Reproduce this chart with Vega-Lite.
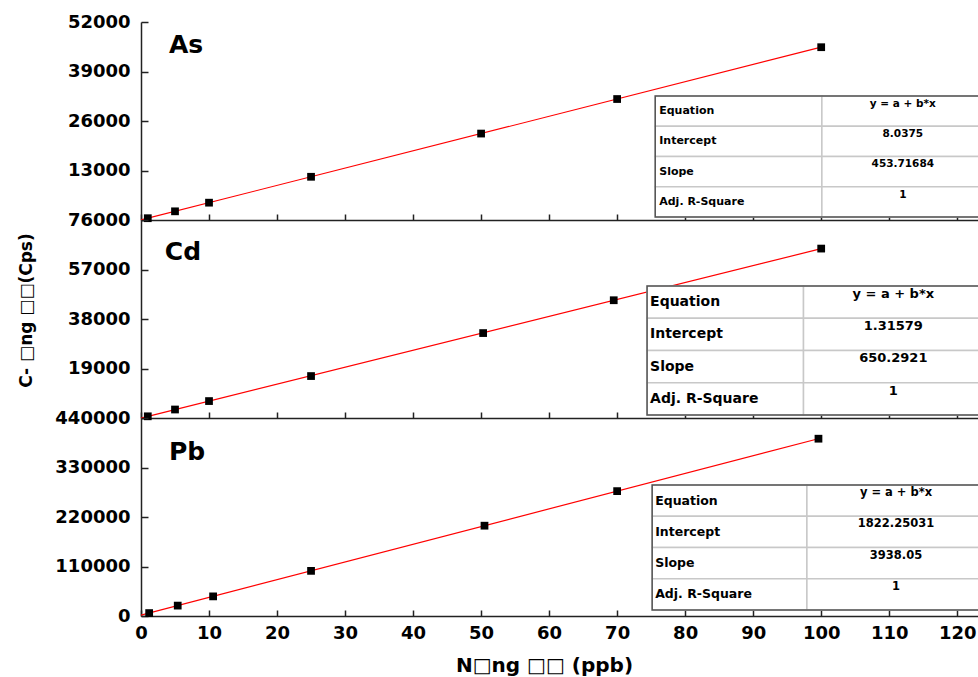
{
  "$schema": "https://vega.github.io/schema/vega-lite/v6.json",
  "autosize": {"type": "pad"},
  "padding": {"left": 16, "top": 13, "right": 0, "bottom": 2},
  "background": "white",
  "spacing": 0,
  "bounds": "flush",
  "config": {
    "view": {"stroke": null},
    "axis": {
      "grid": false,
      "domainColor": "#222",
      "domainWidth": 1.5,
      "tickColor": "#222",
      "tickWidth": 1.5,
      "labelFont": "DejaVu Sans",
      "labelFontWeight": "bold",
      "labelFontSize": 18,
      "labelColor": "#000",
      "labelOverlap": false,
      "labelFlush": false,
      "titleFont": "DejaVu Sans",
      "titleFontWeight": "bold",
      "titleColor": "#000"
    }
  },
  "datasets": {
    "pts": [
      {"el": "As", "x": 1, "y": 470},
      {"el": "As", "x": 5, "y": 2280},
      {"el": "As", "x": 10, "y": 4550},
      {"el": "As", "x": 25, "y": 11350},
      {"el": "As", "x": 50, "y": 22700},
      {"el": "As", "x": 70, "y": 31770},
      {"el": "As", "x": 100, "y": 45380},
      {"el": "Cd", "x": 1, "y": 650},
      {"el": "Cd", "x": 5, "y": 3260},
      {"el": "Cd", "x": 10, "y": 6500},
      {"el": "Cd", "x": 25, "y": 16100},
      {"el": "Cd", "x": 50.3, "y": 32600},
      {"el": "Cd", "x": 69.5, "y": 45200},
      {"el": "Cd", "x": 100, "y": 65030},
      {"el": "Pb", "x": 1.2, "y": 6500},
      {"el": "Pb", "x": 5.4, "y": 23100},
      {"el": "Pb", "x": 10.6, "y": 43600},
      {"el": "Pb", "x": 25, "y": 100300},
      {"el": "Pb", "x": 50.5, "y": 200700},
      {"el": "Pb", "x": 70, "y": 277500},
      {"el": "Pb", "x": 99.6, "y": 394000}
    ],
    "tbl": [
      {"el": "As", "stat": "Equation", "val": "y = a + b*x"},
      {"el": "As", "stat": "Intercept", "val": "8.0375"},
      {"el": "As", "stat": "Slope", "val": "453.71684"},
      {"el": "As", "stat": "Adj. R-Square", "val": "1"},
      {"el": "Cd", "stat": "Equation", "val": "y = a + b*x"},
      {"el": "Cd", "stat": "Intercept", "val": "1.31579"},
      {"el": "Cd", "stat": "Slope", "val": "650.2921"},
      {"el": "Cd", "stat": "Adj. R-Square", "val": "1"},
      {"el": "Pb", "stat": "Equation", "val": "y = a + b*x"},
      {"el": "Pb", "stat": "Intercept", "val": "1822.25031"},
      {"el": "Pb", "stat": "Slope", "val": "3938.05"},
      {"el": "Pb", "stat": "Adj. R-Square", "val": "1"}
    ]
  },
  "vconcat": [
    {
      "width": 838, "height": 198,
      "layer": [
        {
          "data": {"name": "pts"},
          "transform": [{"filter": "datum.el === 'As'"}],
          "layer": [
            {
              "transform": [{"regression": "y", "on": "x", "extent": [0, 100]}],
              "mark": {"type": "line", "color": "#ff0000", "strokeWidth": 1.2},
              "encoding": {
                "x": {"field": "x", "type": "quantitative", "scale": {"domain": [0, 123.2], "nice": false, "zero": false},
                  "axis": {"values": [0,5,10,15,20,25,30,35,40,45,50,55,60,65,70,75,80,85,90,95,100,105,110,115,120], "labels": false, "title": null,
                    "tickSize": {"condition": {"test": "datum.value % 10 === 0", "value": -6}, "value": -3}}},
                "y": {"field": "y", "type": "quantitative", "scale": {"domain": [0, 52000], "nice": false},
                  "axis": {"values": [0,6500,13000,19500,26000,32500,39000,45500,52000], "format": "d", "title": null, "labelPadding": 18,
                    "labelExpr": "datum.value > 0 && datum.value % 13000 === 0 ? datum.label : ''",
                    "tickSize": {"condition": {"test": "datum.value % 13000 === 0", "value": -7}, "value": -4}}}
              }
            },
            {
              "mark": {"type": "point", "shape": "square", "filled": true, "color": "#000", "size": 60, "opacity": 1},
              "encoding": {"x": {"field": "x", "type": "quantitative"}, "y": {"field": "y", "type": "quantitative"}}
            },
            {
              "data": {"values": [{"name": "As"}]},
              "mark": {"type": "text", "align": "left", "baseline": "middle", "font": "DejaVu Sans", "fontWeight": "bold", "fontSize": 25, "color": "#000"},
              "encoding": {"x": {"datum": 4.1}, "y": {"datum": 45960}, "text": {"field": "name"}}
            }
          ]
        },
        {
          "data": {"name": "tbl"},
          "transform": [{"filter": "datum.el === 'As'"}],
          "layer": [
            {
              "mark": {"type": "rect", "fill": "#fff", "stroke": "#c8c8c8", "strokeWidth": 1.5, "clip": true},
              "encoding": {"x": {"datum": 75.6}, "x2": {"datum": 100.1},
                "y": {"field": "stat", "type": "nominal", "sort": null, "axis": null,
                  "scale": {"type": "band", "domain": [" ", "  ", "Equation", "Intercept", "Slope", "Adj. R-Square"], "paddingInner": 0, "paddingOuter": 0.273, "align": 0.818}}}
            },
            {
              "mark": {"type": "rect", "fill": "#fff", "stroke": "#c8c8c8", "strokeWidth": 1.5, "clip": true},
              "encoding": {"x": {"datum": 100.1}, "x2": {"datum": 126}, "y": {"field": "stat", "type": "nominal"}}
            },
            {
              "mark": {"type": "text", "align": "left", "baseline": "middle", "dx": 4, "font": "DejaVu Sans", "fontWeight": "bold", "fontSize": 11, "color": "#000"},
              "encoding": {"x": {"datum": 75.6}, "y": {"field": "stat", "type": "nominal"}, "text": {"field": "stat"}}
            },
            {
              "mark": {"type": "text", "align": "center", "baseline": "top", "dy": 3, "font": "DejaVu Sans", "fontWeight": "bold", "fontSize": 10.5, "color": "#000"},
              "encoding": {"x": {"datum": 112}, "y": {"field": "stat", "type": "nominal", "bandPosition": 0}, "text": {"field": "val"}}
            }
          ]
        },
        {
          "data": {"name": "tbl"},
          "transform": [{"filter": "datum.el === 'As' && datum.stat === 'Equation'"}],
          "mark": {"type": "rect", "fillOpacity": 0, "stroke": "#555", "strokeWidth": 1.5, "clip": true},
          "encoding": {"x": {"datum": 75.6}, "x2": {"datum": 126},
            "y": {"datum": "frame", "type": "nominal", "axis": null,
              "scale": {"type": "band", "domain": ["frame"], "paddingInner": 0, "paddingOuter": 0.318, "align": 0.961}}}
        }
      ],
      "resolve": {"scale": {"y": "independent"}}
    },
    {
      "width": 838, "height": 198,
      "layer": [
        {
          "data": {"name": "pts"},
          "transform": [{"filter": "datum.el === 'Cd'"}],
          "layer": [
            {
              "transform": [{"regression": "y", "on": "x", "extent": [0, 100]}],
              "mark": {"type": "line", "color": "#ff0000", "strokeWidth": 1.2},
              "encoding": {
                "x": {"field": "x", "type": "quantitative", "scale": {"domain": [0, 123.2], "nice": false, "zero": false},
                  "axis": {"values": [0,5,10,15,20,25,30,35,40,45,50,55,60,65,70,75,80,85,90,95,100,105,110,115,120], "labels": false, "title": null,
                    "tickSize": {"condition": {"test": "datum.value % 10 === 0", "value": -6}, "value": -3}}},
                "y": {"field": "y", "type": "quantitative", "scale": {"domain": [0, 76000], "nice": false},
                  "axis": {"values": [0,9500,19000,28500,38000,47500,57000,66500,76000], "format": "d", "labelPadding": 18,
                    "labelExpr": "datum.value > 0 && datum.value % 19000 === 0 ? datum.label : ''",
                    "tickSize": {"condition": {"test": "datum.value % 19000 === 0", "value": -7}, "value": -4},
                    "title": "C- □ng □□(Cps)", "titleFontSize": 17, "titleAngle": -90, "titleX": -115, "titleY": 90,
                    "titleAlign": "center", "titleBaseline": "middle"}}
              }
            },
            {
              "mark": {"type": "point", "shape": "square", "filled": true, "color": "#000", "size": 60, "opacity": 1},
              "encoding": {"x": {"field": "x", "type": "quantitative"}, "y": {"field": "y", "type": "quantitative"}}
            },
            {
              "data": {"values": [{"name": "Cd"}]},
              "mark": {"type": "text", "align": "left", "baseline": "middle", "font": "DejaVu Sans", "fontWeight": "bold", "fontSize": 25, "color": "#000"},
              "encoding": {"x": {"datum": 3.5}, "y": {"datum": 63700}, "text": {"field": "name"}}
            }
          ]
        },
        {
          "data": {"name": "tbl"},
          "transform": [{"filter": "datum.el === 'Cd'"}],
          "layer": [
            {
              "mark": {"type": "rect", "fill": "#fff", "stroke": "#c8c8c8", "strokeWidth": 1.5, "clip": true},
              "encoding": {"x": {"datum": 74.4}, "x2": {"datum": 97.4},
                "y": {"field": "stat", "type": "nominal", "sort": null, "axis": null,
                  "scale": {"type": "band", "domain": [" ", "  ", "Equation", "Intercept", "Slope", "Adj. R-Square"], "paddingInner": 0, "paddingOuter": 0.0698, "align": 0.333}}}
            },
            {
              "mark": {"type": "rect", "fill": "#fff", "stroke": "#c8c8c8", "strokeWidth": 1.5, "clip": true},
              "encoding": {"x": {"datum": 97.4}, "x2": {"datum": 126}, "y": {"field": "stat", "type": "nominal"}}
            },
            {
              "mark": {"type": "text", "align": "left", "baseline": "middle", "dx": 3, "font": "DejaVu Sans", "fontWeight": "bold", "fontSize": 14, "color": "#000"},
              "encoding": {"x": {"datum": 74.4}, "y": {"field": "stat", "type": "nominal"}, "text": {"field": "stat"}}
            },
            {
              "mark": {"type": "text", "align": "center", "baseline": "top", "dy": 2, "font": "DejaVu Sans", "fontWeight": "bold", "fontSize": 13, "color": "#000"},
              "encoding": {"x": {"datum": 110.6}, "y": {"field": "stat", "type": "nominal", "bandPosition": 0}, "text": {"field": "val"}}
            }
          ]
        },
        {
          "data": {"name": "tbl"},
          "transform": [{"filter": "datum.el === 'Cd' && datum.stat === 'Equation'"}],
          "mark": {"type": "rect", "fillOpacity": 0, "stroke": "#555", "strokeWidth": 1.5, "clip": true},
          "encoding": {"x": {"datum": 74.4}, "x2": {"datum": 126},
            "y": {"datum": "frame", "type": "nominal", "axis": null,
              "scale": {"type": "band", "domain": ["frame"], "paddingInner": 0, "paddingOuter": 0.2674, "align": 0.957}}}
        }
      ],
      "resolve": {"scale": {"y": "independent"}}
    },
    {
      "width": 838, "height": 198,
      "layer": [
        {
          "data": {"name": "pts"},
          "transform": [{"filter": "datum.el === 'Pb'"}],
          "layer": [
            {
              "transform": [{"regression": "y", "on": "x", "extent": [0, 100]}],
              "mark": {"type": "line", "color": "#ff0000", "strokeWidth": 1.2},
              "encoding": {
                "x": {"field": "x", "type": "quantitative", "scale": {"domain": [0, 123.2], "nice": false, "zero": false},
                  "axis": {"values": [0,5,10,15,20,25,30,35,40,45,50,55,60,65,70,75,80,85,90,95,100,105,110,115,120], "format": "d", "labelPadding": 14,
                    "labelExpr": "datum.value % 10 === 0 ? datum.label : ''",
                    "tickSize": {"condition": {"test": "datum.value % 10 === 0", "value": -6}, "value": -3},
                    "title": "N□ng □□ (ppb)", "titleFontSize": 20, "titleX": 403, "titleY": 49, "titleAlign": "center", "titleBaseline": "middle"}},
                "y": {"field": "y", "type": "quantitative", "scale": {"domain": [0, 440000], "nice": false},
                  "axis": {"values": [0,55000,110000,165000,220000,275000,330000,385000,440000], "format": "d", "title": null, "labelPadding": 18,
                    "labelExpr": "datum.value % 110000 === 0 ? datum.label : ''",
                    "tickSize": {"condition": {"test": "datum.value % 110000 === 0", "value": -7}, "value": -4}}}
              }
            },
            {
              "mark": {"type": "point", "shape": "square", "filled": true, "color": "#000", "size": 60, "opacity": 1},
              "encoding": {"x": {"field": "x", "type": "quantitative"}, "y": {"field": "y", "type": "quantitative"}}
            },
            {
              "data": {"values": [{"name": "Pb"}]},
              "mark": {"type": "text", "align": "left", "baseline": "middle", "font": "DejaVu Sans", "fontWeight": "bold", "fontSize": 25, "color": "#000"},
              "encoding": {"x": {"datum": 4.1}, "y": {"datum": 364400}, "text": {"field": "name"}}
            }
          ]
        },
        {
          "data": {"name": "tbl"},
          "transform": [{"filter": "datum.el === 'Pb'"}],
          "layer": [
            {
              "mark": {"type": "rect", "fill": "#fff", "stroke": "#c8c8c8", "strokeWidth": 1.5, "clip": true},
              "encoding": {"x": {"datum": 75.15}, "x2": {"datum": 97.9},
                "y": {"field": "stat", "type": "nominal", "sort": null, "axis": null,
                  "scale": {"type": "band", "domain": [" ", "  ", "Equation", "Intercept", "Slope", "Adj. R-Square"], "paddingInner": 0, "paddingOuter": 0.168, "align": 0.4286}}}
            },
            {
              "mark": {"type": "rect", "fill": "#fff", "stroke": "#c8c8c8", "strokeWidth": 1.5, "clip": true},
              "encoding": {"x": {"datum": 97.9}, "x2": {"datum": 126}, "y": {"field": "stat", "type": "nominal"}}
            },
            {
              "mark": {"type": "text", "align": "left", "baseline": "middle", "dx": 3, "font": "DejaVu Sans", "fontWeight": "bold", "fontSize": 12.5, "color": "#000"},
              "encoding": {"x": {"datum": 75.15}, "y": {"field": "stat", "type": "nominal"}, "text": {"field": "stat"}}
            },
            {
              "mark": {"type": "text", "align": "center", "baseline": "top", "dy": 2, "font": "DejaVu Sans", "fontWeight": "bold", "fontSize": 11.5, "color": "#000"},
              "encoding": {"x": {"datum": 111}, "y": {"field": "stat", "type": "nominal", "bandPosition": 0}, "text": {"field": "val"}}
            }
          ]
        },
        {
          "data": {"name": "tbl"},
          "transform": [{"filter": "datum.el === 'Pb' && datum.stat === 'Equation'"}],
          "mark": {"type": "rect", "fillOpacity": 0, "stroke": "#555", "strokeWidth": 1.5, "clip": true},
          "encoding": {"x": {"datum": 75.15}, "x2": {"datum": 126},
            "y": {"datum": "frame", "type": "nominal", "axis": null,
              "scale": {"type": "band", "domain": ["frame"], "paddingInner": 0, "paddingOuter": 0.292, "align": 0.918}}}
        }
      ],
      "resolve": {"scale": {"y": "independent"}}
    }
  ]
}
